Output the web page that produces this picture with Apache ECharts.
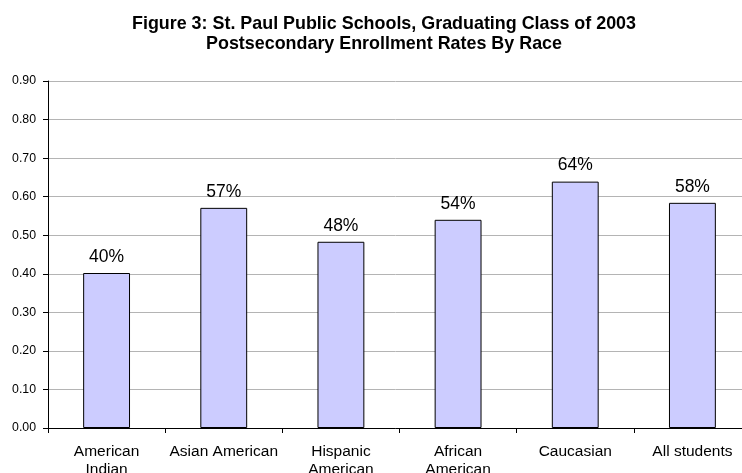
<!DOCTYPE html>
<html><head><meta charset="utf-8">
<script src="https://cdn.jsdelivr.net/npm/echarts@6/dist/echarts.min.js"></script>
<style>html,body{margin:0;padding:0;background:#fff;overflow:hidden}#c{width:742px;height:473px}</style>
</head><body><div id="c"></div>
<script>
const categories = ['American\nIndian', 'Asian American', 'Hispanic\nAmerican', 'African\nAmerican', 'Caucasian', 'All students'];
const rates = [0.402, 0.571, 0.483, 0.540, 0.639, 0.584];
const yTicks = { min: 0, max: 0.9, interval: 0.1 };
const titleLines = ['Figure 3: St. Paul Public Schools, Graduating Class of 2003', 'Postsecondary Enrollment Rates By Race'];

const chart = echarts.init(document.getElementById('c'), null, { renderer: 'canvas' });
chart.setOption({
  animation: false,
  backgroundColor: '#fff',
  title: {
    text: titleLines.join('\n'),
    left: 379, top: 9, textAlign: 'center',
    textStyle: { fontFamily: 'Liberation Sans, Arial', fontWeight: 'bold', fontSize: 17.9, color: '#000', lineHeight: 20 }
  },
  grid: { left: 48, width: 703, top: 81, height: 347, containLabel: false, outerBoundsMode: 'none' },
  xAxis: {
    type: 'category', data: categories,
    axisLine: { lineStyle: { color: '#000', width: 1 } },
    axisTick: { show: true, alignWithLabel: false, length: 5, lineStyle: { color: '#000' } },
    axisLabel: { interval: 0, fontFamily: 'Liberation Sans, Arial', fontSize: 15.5, color: '#000', lineHeight: 18, margin: 15 }
  },
  yAxis: {
    type: 'value', min: yTicks.min, max: yTicks.max, interval: yTicks.interval,
    axisLine: { show: true, lineStyle: { color: '#000', width: 1 } },
    axisTick: { show: true, length: 5, lineStyle: { color: '#000' } },
    axisLabel: { formatter: v => v.toFixed(2), fontFamily: 'Liberation Sans, Arial', fontSize: 12.3, color: '#000', margin: 12 },
    splitLine: { show: true, lineStyle: { color: '#b4b4b4', width: 1 } }
  },
  series: [{
    type: 'bar', data: rates, barWidth: '40%',
    itemStyle: { color: '#ccccff', borderColor: '#000', borderWidth: 1 },
    label: {
      show: true, position: 'top', distance: 7,
      formatter: p => Math.round(p.value * 100) + '%',
      fontFamily: 'Liberation Sans, Arial', fontSize: 17.5, color: '#000'
    }
  }]
});
</script></body></html>
